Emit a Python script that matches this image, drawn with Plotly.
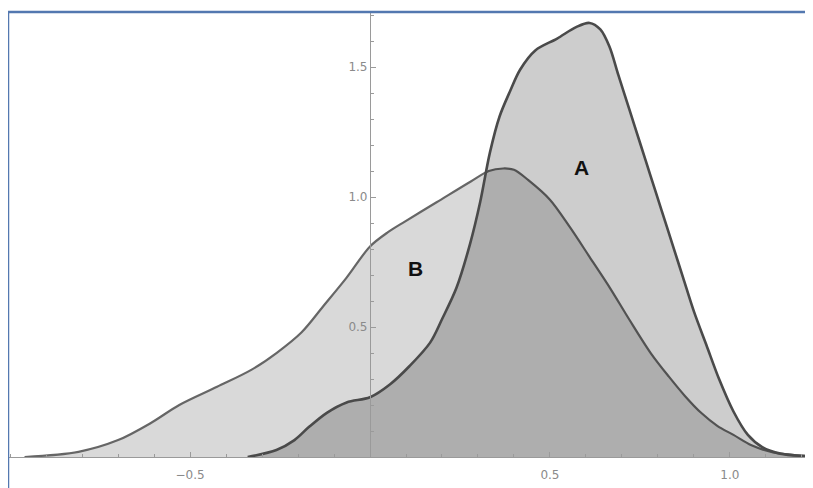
import plotly.graph_objects as go

# ── Data (smooth density-style curves) ───────────────────────────────────────

b_x = [-0.96, -0.81, -0.70, -0.61, -0.53, -0.425, -0.33, -0.26, -0.19, -0.13,
       -0.065, 0.0, 0.05, 0.09, 0.185, 0.28, 0.33, 0.37, 0.40, 0.44, 0.50, 0.555,
       0.61, 0.667, 0.72, 0.78, 0.83, 0.875, 0.92, 0.965, 1.01, 1.06, 1.12, 1.22]
b_y = [0.0, 0.02, 0.065, 0.13, 0.20, 0.27, 0.335, 0.40, 0.48, 0.58,
       0.69, 0.81, 0.865, 0.90, 0.98, 1.06, 1.10, 1.11, 1.105, 1.065, 0.99, 0.885,
       0.77, 0.65, 0.53, 0.40, 0.31, 0.235, 0.17, 0.12, 0.085, 0.045, 0.018, 0.003]

a_x = [-0.34, -0.26, -0.21, -0.17, -0.12, -0.065, 0.0, 0.056, 0.11, 0.167,
       0.20, 0.24, 0.278, 0.306, 0.333, 0.36, 0.39, 0.417, 0.46, 0.52,
       0.574, 0.61, 0.64, 0.665, 0.69, 0.72, 0.75, 0.78, 0.81, 0.84,
       0.87, 0.90, 0.935, 0.97, 1.01, 1.05, 1.09, 1.14, 1.22]
a_y = [0.0, 0.027, 0.065, 0.115, 0.17, 0.21, 0.23, 0.28, 0.35, 0.44,
       0.53, 0.65, 0.82, 0.98, 1.17, 1.31, 1.41, 1.49, 1.565, 1.61,
       1.655, 1.67, 1.645, 1.58, 1.47, 1.34, 1.21, 1.08, 0.95, 0.82,
       0.69, 0.56, 0.43, 0.30, 0.175, 0.085, 0.038, 0.013, 0.003]

x_tick_vals = [-0.5, 0.5, 1.0]
x_tick_text = ["\u22120.5", "0.5", "1.0"]
y_tick_vals = [0.5, 1.0, 1.5]
y_tick_text = ["0.5", "1.0", "1.5"]

_FONT = "DejaVu Sans, Arial, sans-serif"
_TICK = "#8a8a8a"
_AXIS = "#9a9a9a"
_FRAME = "#5378b0"

fig = go.Figure()

fig.add_trace(go.Scatter(
    x=b_x, y=b_y, mode="lines", name="B",
    line=dict(color="#666666", width=2.2, shape="spline", smoothing=0.9),
    fill="tozeroy", fillcolor="rgba(0,0,0,0.15)",
))
fig.add_trace(go.Scatter(
    x=a_x, y=a_y, mode="lines", name="A",
    line=dict(color="#4a4a4a", width=2.6, shape="spline", smoothing=0.9),
    fill="tozeroy", fillcolor="rgba(0,0,0,0.196)",
))

fig.add_annotation(x=0.589, y=1.115, text="<b>A</b>", showarrow=False,
                   font=dict(size=21, color="#111111", family="Liberation Sans, Arial"))
fig.add_annotation(x=0.125, y=0.727, text="<b>B</b>", showarrow=False,
                   font=dict(size=21, color="#111111", family="Liberation Sans, Arial"))

# screenshot frame (top and left edges)
fig.add_shape(type="line", xref="paper", yref="paper", x0=0, x1=1.02, y0=1, y1=1,
              line=dict(color=_FRAME, width=2.5))
fig.add_shape(type="line", xref="paper", yref="paper", x0=0, x1=0, y0=-0.1, y1=1,
              line=dict(color=_FRAME, width=2.5))

# the page body adds an 8px offset, so the figure is 8px smaller each way
fig.update_layout(
    width=805, height=480,
    margin=dict(l=0, r=0, t=4, b=31),
    paper_bgcolor="white", plot_bgcolor="white",
    showlegend=False,
    font=dict(family=_FONT, size=12, color=_TICK),
    xaxis=dict(
        range=[-1.006, 1.231], showgrid=False, zeroline=False,
        showline=True, linecolor=_AXIS, linewidth=1.2,
        tickvals=x_tick_vals, ticktext=x_tick_text,
        ticks="inside", ticklen=5, tickcolor=_AXIS,
        minor=dict(dtick=0.1, tick0=0, ticks="inside", ticklen=3, tickcolor=_AXIS),
        tickfont=dict(size=12, color=_TICK),
        ticklabelstandoff=6,
    ),
    yaxis=dict(
        range=[0, 1.712], showgrid=False, zeroline=False,
        anchor="free", position=0.4497, side="left",
        showline=True, linecolor=_AXIS, linewidth=1.2,
        tickvals=y_tick_vals, ticktext=y_tick_text,
        ticks="inside", ticklen=5, tickcolor=_AXIS,
        minor=dict(dtick=0.1, tick0=0, ticks="inside", ticklen=3, tickcolor=_AXIS),
        tickfont=dict(size=12, color=_TICK),
    ),
)

fig.write_html("out.html")
